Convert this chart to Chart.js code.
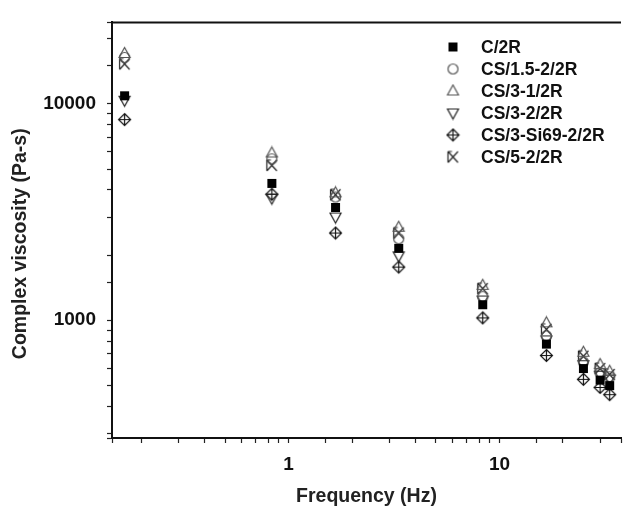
<!DOCTYPE html>
<html>
<head>
<meta charset="utf-8">
<script src="https://cdn.jsdelivr.net/npm/chart.js@4"></script>
<style>
  html, body { margin: 0; padding: 0; background: #fff; }
</style>
</head>
<body>
<canvas id="myChart" width="631" height="506"></canvas>
<script>
// frequencies (Hz) and complex viscosity (Pa-s)
const frequency = [0.167, 0.833, 1.67, 3.33, 8.33, 16.7, 25, 30, 33.3];
const seriesNames = ['C/2R', 'CS/1.5-2/2R', 'CS/3-1/2R', 'CS/3-2/2R', 'CS/3-Si69-2/2R', 'CS/5-2/2R'];
const viscC2R  = [10900, 4290, 3320, 2150, 1180, 776, 598, 529, 499];
const viscCS15 = [16400, 5570, 3710, 2380, 1285, 846, 641, 573, 548];
const viscCS31 = [17100, 5930, 3880, 2690, 1450, 973, 711, 624, 581];
const viscCS32 = [10400, 3670, 3000, 1985, 1240, 811, 623, 557, 535];
const viscCSSi = [8460, 3820, 2530, 1760, 1025, 687, 533, 489, 453];
const viscCS5  = [15300, 5200, 3800, 2530, 1400, 908, 682, 598, 561];
const xTickLabels = [1, 10];
const yTickLabels = [1000, 10000];

const FONT = "'Liberation Sans', Arial, sans-serif";

// small canvases used as point styles
function marker(kind) {
    const s = 15;
    const c = document.createElement('canvas');
    c.width = s; c.height = s;
    const g = c.getContext('2d');
    const m = 7.5;
    g.lineWidth = 1.2;
    g.beginPath();
    if (kind === 'square') {
        g.fillStyle = '#000';
        g.fillRect(m - 4.5, m - 4.5, 9, 9);
        return c;
    } else if (kind === 'circle') {
        g.strokeStyle = '#555';
        g.arc(m, m, 5, 0, Math.PI * 2);
    } else if (kind === 'triangle') {
        g.strokeStyle = '#555';
        g.moveTo(m, m - 6); g.lineTo(m + 5.5, m + 4); g.lineTo(m - 5.5, m + 4); g.closePath();
    } else if (kind === 'invtri') {
        g.strokeStyle = '#222';
        g.moveTo(m - 5.5, m - 4); g.lineTo(m + 5.5, m - 4); g.lineTo(m, m + 6); g.closePath();
    } else if (kind === 'diamond') {
        g.strokeStyle = '#111';
        g.moveTo(m, m - 6); g.lineTo(m + 6, m); g.lineTo(m, m + 6); g.lineTo(m - 6, m); g.closePath();
        g.moveTo(m, m - 6); g.lineTo(m, m + 6);
        g.moveTo(m - 6, m); g.lineTo(m + 6, m);
    } else if (kind === 'xmark') {
        g.strokeStyle = '#222';
        g.moveTo(m - 5, m - 5.5); g.lineTo(m + 5, m + 5.5);
        g.moveTo(m + 5, m - 5.5); g.lineTo(m - 5, m + 5.5);
        g.moveTo(m - 5, m - 5.5); g.lineTo(m - 5, m + 5.5);
        g.moveTo(m - 5, m - 5.5); g.lineTo(m - 1, m - 5.5);
    }
    g.stroke();
    return c;
}

const markers = [marker('square'), marker('circle'), marker('triangle'), marker('invtri'), marker('diamond'), marker('xmark')];
const seriesValues = [viscC2R, viscCS15, viscCS31, viscCS32, viscCSSi, viscCS5];

const datasets = seriesNames.map((name, i) => ({
    label: name,
    data: frequency.map((f, j) => ({ x: f, y: seriesValues[i][j] })),
    pointStyle: markers[i],
    pointRadius: 6,
    showLine: false
}));

const isPow10 = v => Math.abs(Math.log10(v) - Math.round(Math.log10(v))) < 1e-6;

// legend inside the plot + top frame line
const extras = {
    id: 'extras',
    afterDraw(chart) {
        const ctx = chart.ctx;
        const area = chart.chartArea;
        ctx.save();
        ctx.strokeStyle = '#111';
        ctx.lineWidth = 2;
        ctx.beginPath();
        ctx.moveTo(area.left - 1, area.top);
        ctx.lineTo(area.right, area.top);
        ctx.stroke();

        ctx.font = 'bold 17.5px ' + FONT;
        ctx.fillStyle = '#111';
        ctx.textBaseline = 'middle';
        seriesNames.forEach((name, i) => {
            const y = 47 + i * 22;
            ctx.drawImage(markers[i], 453 - 7.5, y - 7.5);
            ctx.fillText(name, 481, y + 1);
        });
        ctx.restore();
    }
};

const ctx = document.getElementById('myChart');
new Chart(ctx, {
    type: 'scatter',
    data: { datasets: datasets },
    options: {
        responsive: false,
        animation: false,
        layout: { autoPadding: false, padding: { top: 14, right: 0, left: 0, bottom: 0 } },
        plugins: {
            legend: { display: false },
            tooltip: { enabled: false }
        },
        scales: {
            x: {
                type: 'logarithmic',
                min: 0.1455,
                max: 37.7,
                afterFit(s) { s.height = 68; },
                border: { display: true, color: '#111', width: 2 },
                grid: { drawOnChartArea: false, drawTicks: true, tickLength: 5, tickColor: '#222', tickWidth: 1.2 },
                ticks: {
                    autoSkip: false, maxRotation: 0, minRotation: 0, padding: 10,
                    color: '#111',
                    font: { family: FONT, size: 19, weight: 'bold' },
                    callback: v => (isPow10(v) && xTickLabels.includes(Math.round(v))) ? String(Math.round(v)) : ''
                },
                title: {
                    display: true, text: 'Frequency (Hz)', color: '#222',
                    font: { family: FONT, size: 19.5, weight: 'bold', lineHeight: 1.0 },
                    padding: { top: 0, bottom: 0 }
                }
            },
            y: {
                type: 'logarithmic',
                min: 285.6,
                max: 23800,
                afterFit(s) { s.width = 112; },
                border: { display: true, color: '#111', width: 2 },
                grid: { drawOnChartArea: false, drawTicks: true, tickLength: 5, tickColor: '#222', tickWidth: 1.2 },
                ticks: {
                    autoSkip: false, padding: 11,
                    color: '#111',
                    font: { family: FONT, size: 19, weight: 'bold' },
                    callback: v => (isPow10(v) && yTickLabels.includes(Math.round(v))) ? String(Math.round(v)) : ''
                },
                title: {
                    display: true, text: 'Complex viscosity (Pa-s)     ', color: '#222',
                    font: { family: FONT, size: 19.5, weight: 'bold', lineHeight: 1.0 },
                    padding: { top: 11, bottom: 0 }
                }
            }
        }
    },
    plugins: [extras]
});
</script>
</body>
</html>
